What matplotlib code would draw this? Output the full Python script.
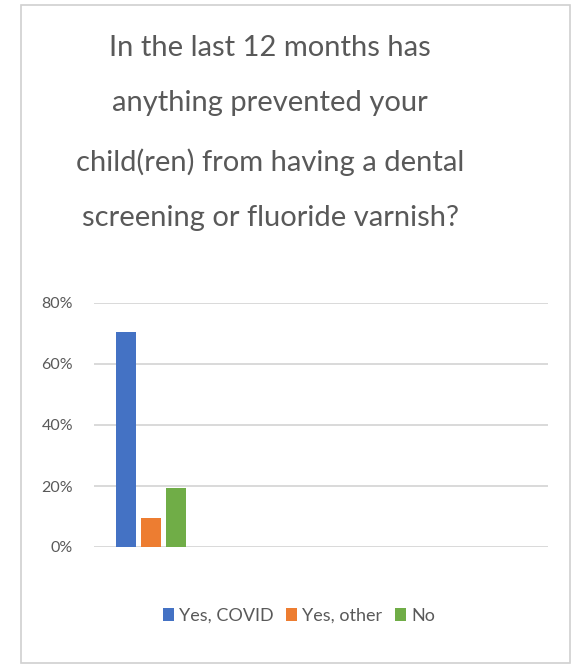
import matplotlib
matplotlib.use("Agg")
import matplotlib.pyplot as plt
from matplotlib.patches import Rectangle, Patch
from matplotlib.ticker import PercentFormatter

title = "In the last 12 months has\nanything prevented your\nchild(ren) from having a dental\nscreening or fluoride varnish?"
series = ["Yes, COVID", "Yes, other", "No"]
values = [70.5, 9.5, 19.5]
colors = ["#4472C4", "#ED7D31", "#70AD47"]
yticks = [0, 20, 40, 60, 80]

W, H = 576, 666
fig = plt.figure(figsize=(W / 100, H / 100), dpi=100)
fig.patch.set_facecolor("white")

# outer frame
fig.patches.append(Rectangle((21 / W, 1 - 663 / H), (570 - 21) / W, (663 - 5) / H,
                             transform=fig.transFigure, fill=False,
                             edgecolor="#D0D0D0", linewidth=1.2))

fam = ["Lato", "DejaVu Sans"]
fig.text(270 / W, 1 - 133 / H, title, ha="center", va="center", fontsize=21,
         color="#595959", family=fam, linespacing=2.4)

ax = fig.add_axes([94 / W, 1 - 547 / H, (548 - 94) / W, (547 - 303) / H])
ax.set_facecolor("white")
positions = [0, 1, 2]
for p, v, c in zip(positions, values, colors):
    ax.bar(p, v, width=0.8, color=c, zorder=3)
ax.set_xlim(-1.3, 17.0)
ax.set_ylim(0, 80)
ax.set_yticks(yticks)
ax.yaxis.set_major_formatter(PercentFormatter(decimals=0))
ax.grid(axis="y", color="#D9D9D9", linewidth=1.4, zorder=0)
for s in ax.spines.values():
    s.set_visible(False)
ax.tick_params(axis="y", length=0, pad=15, labelsize=11.5, labelcolor="#595959")
ax.tick_params(axis="x", length=0, labelbottom=False)
for lab in ax.get_yticklabels():
    lab.set_family(fam)

handles = [Patch(facecolor=c, label=s) for s, c in zip(series, colors)]
fig.legend(handles=handles, loc="center", bbox_to_anchor=(299 / W, 1 - 616 / H),
           ncol=3, frameon=False, handlelength=0.6, handleheight=0.75,
           handletextpad=0.3, columnspacing=0.7, labelcolor="#595959",
           prop={"family": fam, "size": 13})

fig.savefig("out.png", dpi=100, facecolor="white")
